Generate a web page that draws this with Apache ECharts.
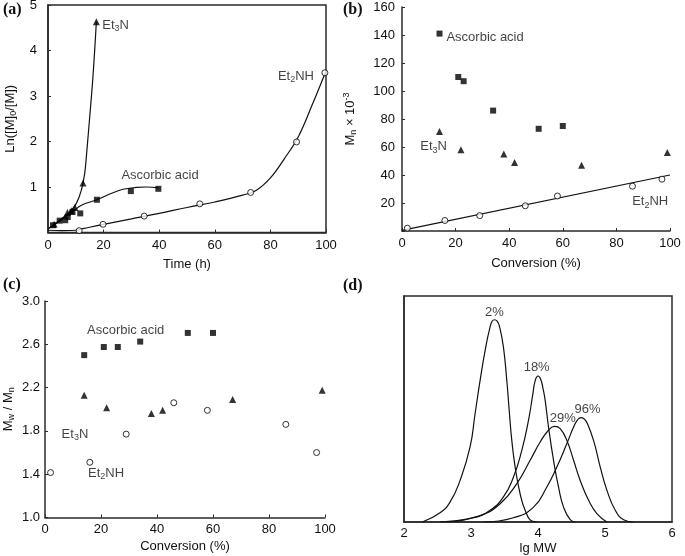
<!DOCTYPE html>
<html>
<head>
<meta charset="utf-8">
<script src="https://cdn.jsdelivr.net/npm/echarts@6/dist/echarts.min.js"></script>
<style>
html,body{margin:0;padding:0;background:#fff;}
#c{width:685px;height:556px;}
</style>
</head>
<body>
<div id="c"></div>
<script>
// ---------- Panel (a): Ln([M]0/[M]) vs time ----------
const aEt3N_t = [2.2, 7.0, 8.4, 9.7, 12.6, 17.4];
const aEt3N_y = [0.18, 0.44, 0.48, 0.55, 1.09, 4.63];
const aAsc_t = [1.8, 4.2, 6.2, 7.1, 8.8, 11.6, 17.6, 29.8, 39.7];
const aAsc_y = [0.16, 0.26, 0.27, 0.34, 0.45, 0.42, 0.72, 0.91, 0.96];
const aEt2NH_t = [11.2, 19.8, 34.6, 54.6, 72.9, 89.4, 99.6];
const aEt2NH_y = [0.04, 0.18, 0.36, 0.63, 0.88, 1.99, 3.51];
// fitted curves
const aEt3NFit_t = [0, 4.2, 7.8, 10.2, 12.0, 13.2, 14.0, 15.0, 16.0, 16.8, 17.4];
const aEt3NFit_y = [0.08, 0.27, 0.45, 0.64, 0.93, 1.3, 1.81, 2.54, 3.28, 4.01, 4.63];
const aAscFit_t = [0, 3, 6, 9, 12, 17.6, 22, 27, 31.8, 35.4, 39.7];
const aAscFit_y = [0.08, 0.2, 0.33, 0.46, 0.6, 0.72, 0.84, 0.95, 0.99, 1.0, 0.98];
const aEt2NHFit_t = [0, 5, 10, 13, 20, 30, 40, 50, 60, 70, 75, 80, 85, 90, 95, 100];
const aEt2NHFit_y = [0.05, 0.04, 0.05, 0.09, 0.18, 0.3, 0.42, 0.55, 0.67, 0.82, 0.93, 1.2, 1.62, 2.1, 2.8, 3.55];

// ---------- Panel (b): Mn x 10^-3 vs conversion ----------
const bAsc_x = [14, 21, 23, 34, 51, 60];
const bAsc_y = [141, 110, 107, 86, 73, 75];
const bEt3N_x = [14, 22, 38, 42, 67, 99];
const bEt3N_y = [71, 58, 55, 49, 47, 56];
const bEt2NH_x = [2, 16, 29, 46, 58, 86, 97];
const bEt2NH_y = [2, 7.5, 11, 18, 25, 32, 37];
const bFit_x = [0, 100];
const bFit_y = [0.5, 40];

// ---------- Panel (c): Mw/Mn vs conversion ----------
const cAsc_x = [14, 21, 26, 34, 51, 60];
const cAsc_y = [2.50, 2.575, 2.575, 2.625, 2.705, 2.705];
const cEt3N_x = [14, 22, 38, 42, 67, 99];
const cEt3N_y = [2.13, 2.015, 1.96, 1.99, 2.09, 2.175];
const cEt2NH_x = [2, 16, 29, 46, 58, 86, 97];
const cEt2NH_y = [1.415, 1.51, 1.77, 2.06, 1.99, 1.86, 1.6];

// ---------- Panel (d): GPC traces vs lg MW ----------
const d2_x = [2.274, 2.538, 2.687, 2.837, 2.986, 3.061, 3.136, 3.220, 3.285, 3.315, 3.350, 3.390, 3.425, 3.484, 3.534, 3.574, 3.609, 3.659, 3.733, 3.808, 3.908, 3.98];
const d2_y = [0, 0.041, 0.088, 0.184, 0.332, 0.479, 0.627, 0.774, 0.863, 0.888, 0.895, 0.889, 0.866, 0.774, 0.627, 0.479, 0.361, 0.243, 0.125, 0.052, 0.004, 0];
const d18_x = [2.538, 3.036, 3.285, 3.484, 3.634, 3.758, 3.858, 3.920, 3.960, 4.000, 4.040, 4.075, 4.107, 4.157, 4.232, 4.306, 4.381, 4.481, 4.555];
const d18_y = [0, 0.019, 0.052, 0.111, 0.199, 0.317, 0.450, 0.560, 0.628, 0.646, 0.632, 0.590, 0.538, 0.420, 0.273, 0.155, 0.066, 0.010, 0];
const d29_x = [2.687, 3.136, 3.435, 3.684, 3.883, 4.032, 4.157, 4.247, 4.331, 4.431, 4.531, 4.630, 4.755, 4.879, 5.029];
const d29_y = [0, 0.029, 0.081, 0.170, 0.273, 0.354, 0.406, 0.423, 0.413, 0.361, 0.273, 0.184, 0.096, 0.037, 0];
const d96_x = [3.186, 3.634, 3.933, 4.132, 4.281, 4.431, 4.531, 4.590, 4.640, 4.690, 4.730, 4.829, 4.929, 5.029, 5.153, 5.278, 5.427];
const d96_y = [0, 0.019, 0.066, 0.155, 0.243, 0.347, 0.420, 0.452, 0.462, 0.456, 0.440, 0.361, 0.243, 0.140, 0.052, 0.010, 0];
const dLabels = ['2%', '18%', '29%', '96%'];

// tick labels / axis ranges
const aXTicks = [0, 100, 20], aYTicks = [0, 5, 1];
const bXTicks = [0, 100, 20], bYTicks = [0, 160, 20];
const cXTicks = [0, 100, 20], cYTicks = [1.0, 3.0, 0.4];
const dXTicks = [2, 6, 1];

// annotation anchors (data coordinates of label centres)
const annA = [[24.3, 4.56, 'et3n'], [40.3, 1.26, 'asc'], [89.2, 3.44, 'et2nh']];
const annB = [[31.0, 138.4, 'asc'], [11.8, 60.2, 'et3n'], [92.6, 20.9, 'et2nh']];
const annC = [[28.8, 2.73, 'asc'], [10.7, 1.77, 'et3n'], [21.8, 1.41, 'et2nh']];
const annD = [[3.35, 0.927], [3.98, 0.683], [4.37, 0.458], [4.74, 0.499]];

const zip = (xs, ys) => xs.map((x, i) => [x, ys[i]]);
const FONT = 'Liberation Sans, Arial, Helvetica, sans-serif';
const INK = '#111';
const AX = '#2a2a2a';

const rich = {
  t: { fontSize: 13, lineHeight: 16, fontFamily: FONT, color: INK },
  s: { fontSize: 9, lineHeight: 9, verticalAlign: 'bottom', fontFamily: FONT, color: INK },
  p: { fontSize: 9, lineHeight: 9, verticalAlign: 'top', fontFamily: FONT, color: INK }
};
const annText = {
  et3n: '{t|Et}{s|3}{t|N}',
  et2nh: '{t|Et}{s|2}{t|NH}',
  asc: '{t|Ascorbic acid}'
};

function xAxis(gi, t, name, gap, margin) {
  return {
    type: 'value', gridIndex: gi, min: t[0], max: t[1], interval: t[2],
    name: name, nameLocation: 'middle', nameGap: gap,
    nameTextStyle: { fontFamily: FONT, fontSize: 13, color: INK },
    axisLine: { show: true, onZero: false, lineStyle: { color: AX, width: 1.5 } },
    axisTick: { show: true, inside: true, length: 3, lineStyle: { color: AX } },
    axisLabel: { fontFamily: FONT, fontSize: 13, color: INK, margin: margin },
    splitLine: { show: false }
  };
}
function yAxis(gi, t, name, gap, margin, fmt) {
  return {
    type: 'value', gridIndex: gi, min: t[0], max: t[1], interval: t[2],
    name: name, nameLocation: 'middle', nameGap: gap, nameRotate: 90,
    nameTextStyle: { fontFamily: FONT, fontSize: 13, color: INK, rich: rich },
    axisLine: { show: true, onZero: false, lineStyle: { color: AX, width: 1.5 } },
    axisTick: { show: true, inside: true, length: 3, lineStyle: { color: AX } },
    axisLabel: { fontFamily: FONT, fontSize: 13, color: INK, margin: margin, formatter: fmt },
    splitLine: { show: false }
  };
}

function pts(gi, data, kind) {
  const base = { type: 'scatter', xAxisIndex: gi, yAxisIndex: gi, data: data, z: 5, silent: true };
  if (kind === 'tri') return Object.assign(base, { symbol: 'triangle', symbolSize: 7, itemStyle: { color: '#000' } });
  if (kind === 'sq') return Object.assign(base, { symbol: 'rect', symbolSize: 6, itemStyle: { color: '#000' } });
  return Object.assign(base, { symbol: 'circle', symbolSize: 6, itemStyle: { color: '#fff', borderColor: '#000', borderWidth: 1 } });
}
function curve(gi, data, smooth) {
  return {
    type: 'line', xAxisIndex: gi, yAxisIndex: gi, data: data, showSymbol: false, symbol: 'none',
    smooth: smooth, silent: true, z: 3,
    lineStyle: { color: INK, width: 1.2 }
  };
}
function ann(gi, list, textFn) {
  return list.map(a => ({
    type: 'scatter', xAxisIndex: gi, yAxisIndex: gi, silent: true, z: 6,
    symbol: 'circle', symbolSize: 1, itemStyle: { color: 'rgba(0,0,0,0)' },
    data: [[a[0], a[1]]],
    label: { show: true, position: 'inside', formatter: textFn(a), rich: rich,
             fontFamily: FONT, fontSize: 13, color: INK }
  }));
}

const grids = [
  { left: 48, top: 5, width: 278, height: 227.5, show: true, borderColor: AX, borderWidth: 1.5, backgroundColor: 'transparent' },
  { left: 402, top: 7, width: 268, height: 224 },
  { left: 45, top: 301, width: 280, height: 216.5 },
  { left: 404, top: 296, width: 268, height: 226, show: true, borderColor: AX, borderWidth: 1.5, backgroundColor: 'transparent' }
].map(g => Object.assign({ outerBoundsMode: 'none', containLabel: false }, g));

const hideFirst = (v0) => (v) => (Math.abs(v - v0) < 1e-9 ? '' : String(v));

const option = {
  animation: false,
  backgroundColor: '#fff',
  grid: grids,
  xAxis: [
    xAxis(0, aXTicks, 'Time (h)', 25, 6),
    xAxis(1, bXTicks, 'Conversion (%)', 26, 6),
    xAxis(2, cXTicks, 'Conversion (%)', 22, 5),
    Object.assign(xAxis(3, dXTicks, 'lg MW', 20, 5), { axisTick: { show: false } })
  ],
  yAxis: [
    yAxis(0, aYTicks, '{t|Ln([M]}{s|0}{t|/[M])}', 30, 11, hideFirst(0)),
    yAxis(1, bYTicks, '{t|M}{s|n}{t| × 10}{p|-3}', 44, 7, hideFirst(0)),
    yAxis(2, cYTicks, '{t|M}{s|w}{t| / M}{s|n}', 29, 5, (v) => v.toFixed(1)),
    { type: 'value', gridIndex: 3, min: 0, max: 1, axisLine: { show: true, lineStyle: { color: AX, width: 1.5 } },
      axisTick: { show: false }, axisLabel: { show: false }, splitLine: { show: false } }
  ],
  series: [
    // (a)
    curve(0, zip(aEt3NFit_t, aEt3NFit_y), 0.3),
    curve(0, zip(aAscFit_t, aAscFit_y), 0.4),
    curve(0, zip(aEt2NHFit_t, aEt2NHFit_y), 0.4),
    pts(0, zip(aEt3N_t, aEt3N_y), 'tri'),
    pts(0, zip(aAsc_t, aAsc_y), 'sq'),
    pts(0, zip(aEt2NH_t, aEt2NH_y), 'circ'),
    ...ann(0, annA, a => annText[a[2]]),
    // (b)
    curve(1, zip(bFit_x, bFit_y), false),
    pts(1, zip(bAsc_x, bAsc_y), 'sq'),
    pts(1, zip(bEt3N_x, bEt3N_y), 'tri'),
    pts(1, zip(bEt2NH_x, bEt2NH_y), 'circ'),
    ...ann(1, annB, a => annText[a[2]]),
    // (c)
    pts(2, zip(cAsc_x, cAsc_y), 'sq'),
    pts(2, zip(cEt3N_x, cEt3N_y), 'tri'),
    pts(2, zip(cEt2NH_x, cEt2NH_y), 'circ'),
    ...ann(2, annC, a => annText[a[2]]),
    // (d)
    curve(3, zip(d2_x, d2_y), 0.5),
    curve(3, zip(d18_x, d18_y), 0.5),
    curve(3, zip(d29_x, d29_y), 0.5),
    curve(3, zip(d96_x, d96_y), 0.5),
    ...ann(3, annD, (a) => '{t|' + dLabels[annD.indexOf(a)] + '}')
  ],
  graphic: [
    { type: 'text', left: 3, top: 2, style: { text: '(a)', font: 'bold 16px "Liberation Serif", "DejaVu Serif", serif', fill: '#111' } },
    { type: 'text', left: 343, top: 2, style: { text: '(b)', font: 'bold 16px "Liberation Serif", "DejaVu Serif", serif', fill: '#111' } },
    { type: 'text', left: 3, top: 277, style: { text: '(c)', font: 'bold 16px "Liberation Serif", "DejaVu Serif", serif', fill: '#111' } },
    { type: 'text', left: 343, top: 278, style: { text: '(d)', font: 'bold 16px "Liberation Serif", "DejaVu Serif", serif', fill: '#111' } }
  ]
};

const chart = echarts.init(document.getElementById('c'), null, { renderer: 'canvas' });
chart.setOption(option);
</script>
</body>
</html>
